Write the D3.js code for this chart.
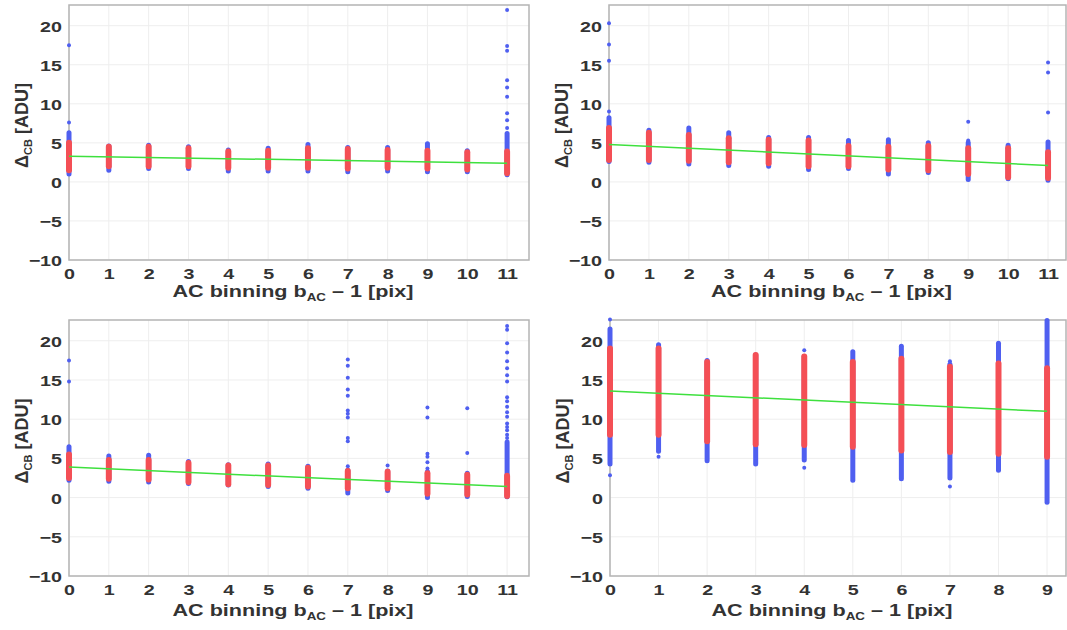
<!DOCTYPE html>
<html><head><meta charset="utf-8">
<script src="https://cdn.jsdelivr.net/npm/d3@7"></script>
<style>
body{margin:0;background:#fff;}
svg{display:block;}
text{font-family:"Liberation Sans",Arial,Helvetica,sans-serif;font-weight:bold;fill:#333;}
</style></head><body>
<svg id="chart" width="1067" height="630"></svg>
<script>
// ---------- data ----------
const yTicks = [-10, -5, 0, 5, 10, 15, 20];
const yDomain = [-10, 22.65];

// Panel A (top-left)
const catsA = [0,1,2,3,4,5,6,7,8,9,10,11];
const aBlueLow  = [1.0,1.5,1.7,1.7,1.4,1.4,1.4,1.3,1.4,1.3,1.3,0.9];
const aBlueHigh = [6.3,4.6,4.7,4.5,4.1,4.3,4.8,4.4,4.4,4.9,4.0,6.2];
const aRedLow   = [1.5,2.0,2.0,2.0,1.8,1.8,1.8,1.7,1.8,1.7,1.6,1.1];
const aRedHigh  = [5.0,4.5,4.5,4.3,3.9,4.0,4.3,4.2,4.1,4.0,3.8,3.9];
const aOutX = [0,0,11,11,11,11,11,11,11,11,11];
const aOutY = [7.6,17.5,22.0,17.4,16.8,13.0,12.1,10.9,8.8,7.9,6.9];
const aFit  = [3.3, 2.4];

// Panel B (top-right)
const catsB = [0,1,2,3,4,5,6,7,8,9,10,11];
const bBlueLow  = [2.6,2.5,2.3,2.1,2.0,1.6,1.7,1.0,1.2,0.3,0.4,0.2];
const bBlueHigh = [8.2,6.6,6.9,6.3,5.7,5.7,5.3,5.4,5.0,5.0,4.7,5.1];
const bRedLow   = [2.8,2.8,2.7,2.5,2.4,2.0,2.0,1.6,1.5,1.0,0.6,0.5];
const bRedHigh  = [6.9,6.3,6.0,5.6,5.4,5.3,4.6,4.5,4.6,4.3,4.3,3.8];
const bOutX = [0,0,0,0,9,9,11,11,11];
const bOutY = [20.3,17.6,15.5,9.0,7.7,5.3,15.3,14.0,8.9];
const bFit  = [4.8, 2.1];

// Panel C (bottom-left)
const catsC = [0,1,2,3,4,5,6,7,8,9,10,11];
const cBlueLow  = [2.2,2.1,2.0,1.8,1.6,1.4,1.2,0.6,0.9,0.0,0.15,0.1];
const cBlueHigh = [6.5,5.3,5.4,4.6,4.2,4.3,4.0,3.5,3.4,3.3,3.1,7.1];
const cRedLow   = [2.5,2.4,2.3,2.0,1.7,1.6,1.4,1.2,1.2,0.5,0.4,0.2];
const cRedHigh  = [5.5,4.8,4.8,4.4,4.1,4.1,3.8,3.4,3.3,3.1,2.9,2.8];
const cOutX = [0,0,7,7,7,7,7,7,7,7,7,7,7,8,9,9,9,9,9,9,10,10,
               11,11,11,11,11,11,11,11,11,11,11,11,11,11,11,11,11,11];
const cOutY = [17.5,14.8,17.6,16.8,15.3,13.8,13.0,11.1,10.7,10.2,7.6,7.2,4.0,4.1,11.5,10.2,5.6,5.2,4.5,3.7,11.4,5.7,
               21.9,21.4,19.7,18.5,17.4,16.5,15.6,14.8,12.8,12.3,11.6,10.9,10.3,9.45,9.0,8.6,8.0,7.6];
const cFit  = [3.9, 1.4];

// Panel D (bottom-right)
const catsD = [0,1,2,3,4,5,6,7,8,9];
const dBlueLow  = [4.3,5.9,4.7,4.3,4.8,2.2,2.4,2.5,3.5,-0.6];
const dBlueHigh = [21.5,19.5,17.5,18.2,18.0,18.6,19.3,17.0,19.7,22.6];
const dRedLow   = [8.0,8.0,7.2,6.8,6.7,6.5,6.0,5.8,5.6,5.2];
const dRedHigh  = [19.0,19.0,17.3,18.2,18.0,17.3,17.7,16.7,17.1,16.5];
const dOutX = [0,0,1,4,4,7,7];
const dOutY = [22.7,2.85,5.2,18.8,3.8,17.4,1.4];
const dFit  = [13.6, 11.0];

// ---------- drawing ----------
const svg = d3.select("#chart");
const BLUE = "#4f5ff0", RED = "#f44f55", GREEN = "#3ee03e";
const SX = 1.27; // horizontal stretch of the source figure

const panels = [
  {cats:catsA, bl:aBlueLow, bh:aBlueHigh, rl:aRedLow, rh:aRedHigh, ox:aOutX, oy:aOutY, fit:aFit,
   left:69, right:529, top:5, bottom:260, xMax:11.55, xlab:37},
  {cats:catsB, bl:bBlueLow, bh:bBlueHigh, rl:bRedLow, rh:bRedHigh, ox:bOutX, oy:bOutY, fit:bFit,
   left:609, right:1066, top:5, bottom:260, xMax:11.45, xlab:37},
  {cats:catsC, bl:cBlueLow, bh:cBlueHigh, rl:cRedLow, rh:cRedHigh, ox:cOutX, oy:cOutY, fit:cFit,
   left:69, right:529, top:320, bottom:576, xMax:11.55, xlab:40},
  {cats:catsD, bl:dBlueLow, bh:dBlueHigh, rl:dRedLow, rh:dRedHigh, ox:dOutX, oy:dOutY, fit:dFit,
   left:610, right:1066, top:320, bottom:576, xMax:9.39, xlab:40}
];

panels.forEach((p, pi) => {
  const x = d3.scaleLinear().domain([0, p.xMax]).range([p.left, p.right]);
  const y = d3.scaleLinear().domain(yDomain).range([p.bottom, p.top]);
  const g = svg.append("g");

  // grid
  g.selectAll(".gx").data(p.cats).join("line")
    .attr("x1", d => x(d)).attr("x2", d => x(d))
    .attr("y1", p.top).attr("y2", p.bottom)
    .attr("stroke", "#eeeeee").attr("stroke-width", 1);
  g.selectAll(".gy").data(yTicks).join("line")
    .attr("x1", p.left).attr("x2", p.right)
    .attr("y1", d => y(d)).attr("y2", d => y(d))
    .attr("stroke", "#eeeeee").attr("stroke-width", 1);

  // frame
  g.append("rect").attr("x", p.left).attr("y", p.top)
    .attr("width", p.right - p.left).attr("height", p.bottom - p.top)
    .attr("fill", "none").attr("stroke", "#b4b4b4").attr("stroke-width", 1.5);

  // blue strips
  g.selectAll(".bs").data(p.cats).join("line")
    .attr("x1", d => x(d)).attr("x2", d => x(d))
    .attr("y1", (d,i) => y(p.bl[i])).attr("y2", (d,i) => y(p.bh[i]))
    .attr("stroke", BLUE).attr("stroke-width", 5).attr("stroke-linecap", "round");
  // outliers
  g.selectAll(".ol").data(p.ox).join("circle")
    .attr("cx", d => x(d)).attr("cy", (d,i) => y(p.oy[i]))
    .attr("r", 2).attr("fill", BLUE);
  // red strips
  g.selectAll(".rs").data(p.cats).join("line")
    .attr("x1", d => x(d)).attr("x2", d => x(d))
    .attr("y1", (d,i) => y(p.rl[i])).attr("y2", (d,i) => y(p.rh[i]))
    .attr("stroke", RED).attr("stroke-width", 6).attr("stroke-linecap", "round");

  // fit line
  const last = p.cats[p.cats.length - 1];
  g.append("path")
    .datum([[0, p.fit[0]], [last, p.fit[1]]])
    .attr("d", d3.line().x(d => x(d[0])).y(d => y(d[1])))
    .attr("stroke", GREEN).attr("stroke-width", 1.5).attr("fill", "none");

  // y axis
  const ya = g.append("g").attr("transform", `translate(${p.left},0)`)
    .call(d3.axisLeft(y).tickValues(yTicks).tickSize(0).tickPadding(0));
  ya.select(".domain").remove();
  ya.selectAll("text")
    .attr("x", null).attr("dy", "0.36em")
    .attr("transform", `translate(-7,0) scale(${SX},1)`)
    .style("font-size", "15.5px").style("font-family", null).attr("fill", "#333");

  // x axis
  const xa = g.append("g").attr("transform", `translate(0,${p.bottom})`)
    .call(d3.axisBottom(x).tickValues(p.cats).tickFormat(d3.format("d")).tickSize(0).tickPadding(0));
  xa.select(".domain").remove();
  xa.selectAll("text")
    .attr("y", null).attr("dy", null)
    .attr("transform", `translate(0,${(pi < 2 ? 18.5 : 19)}) scale(${SX},1)`)
    .style("font-size", "15.5px").style("font-family", null).attr("fill", "#333");

  // x label
  const cx = (p.left + p.right) / 2 - 6;
  const xl = g.append("text")
    .attr("transform", `translate(${cx},${p.bottom + p.xlab}) scale(${SX},1)`)
    .attr("text-anchor", "middle").style("font-size", "17px");
  xl.append("tspan").text("AC binning b");
  xl.append("tspan").attr("dy", 4).style("font-size", "10.5px").text("AC");
  xl.append("tspan").attr("dy", -4).text(" \u2013 1 [pix]");

  // y label
  const ly = (p.top + p.bottom) / 2 - 7;
  const lx = p.left - 41;
  const yl = g.append("text")
    .attr("transform", `translate(${lx},${ly}) rotate(-90)`)
    .attr("text-anchor", "middle").style("font-size", "18px");
  yl.append("tspan").text("\u0394");
  yl.append("tspan").attr("dy", 4).style("font-size", "11px").text("CB");
  yl.append("tspan").attr("dy", -4).text(" [ADU]");
});
</script>
</body></html>
